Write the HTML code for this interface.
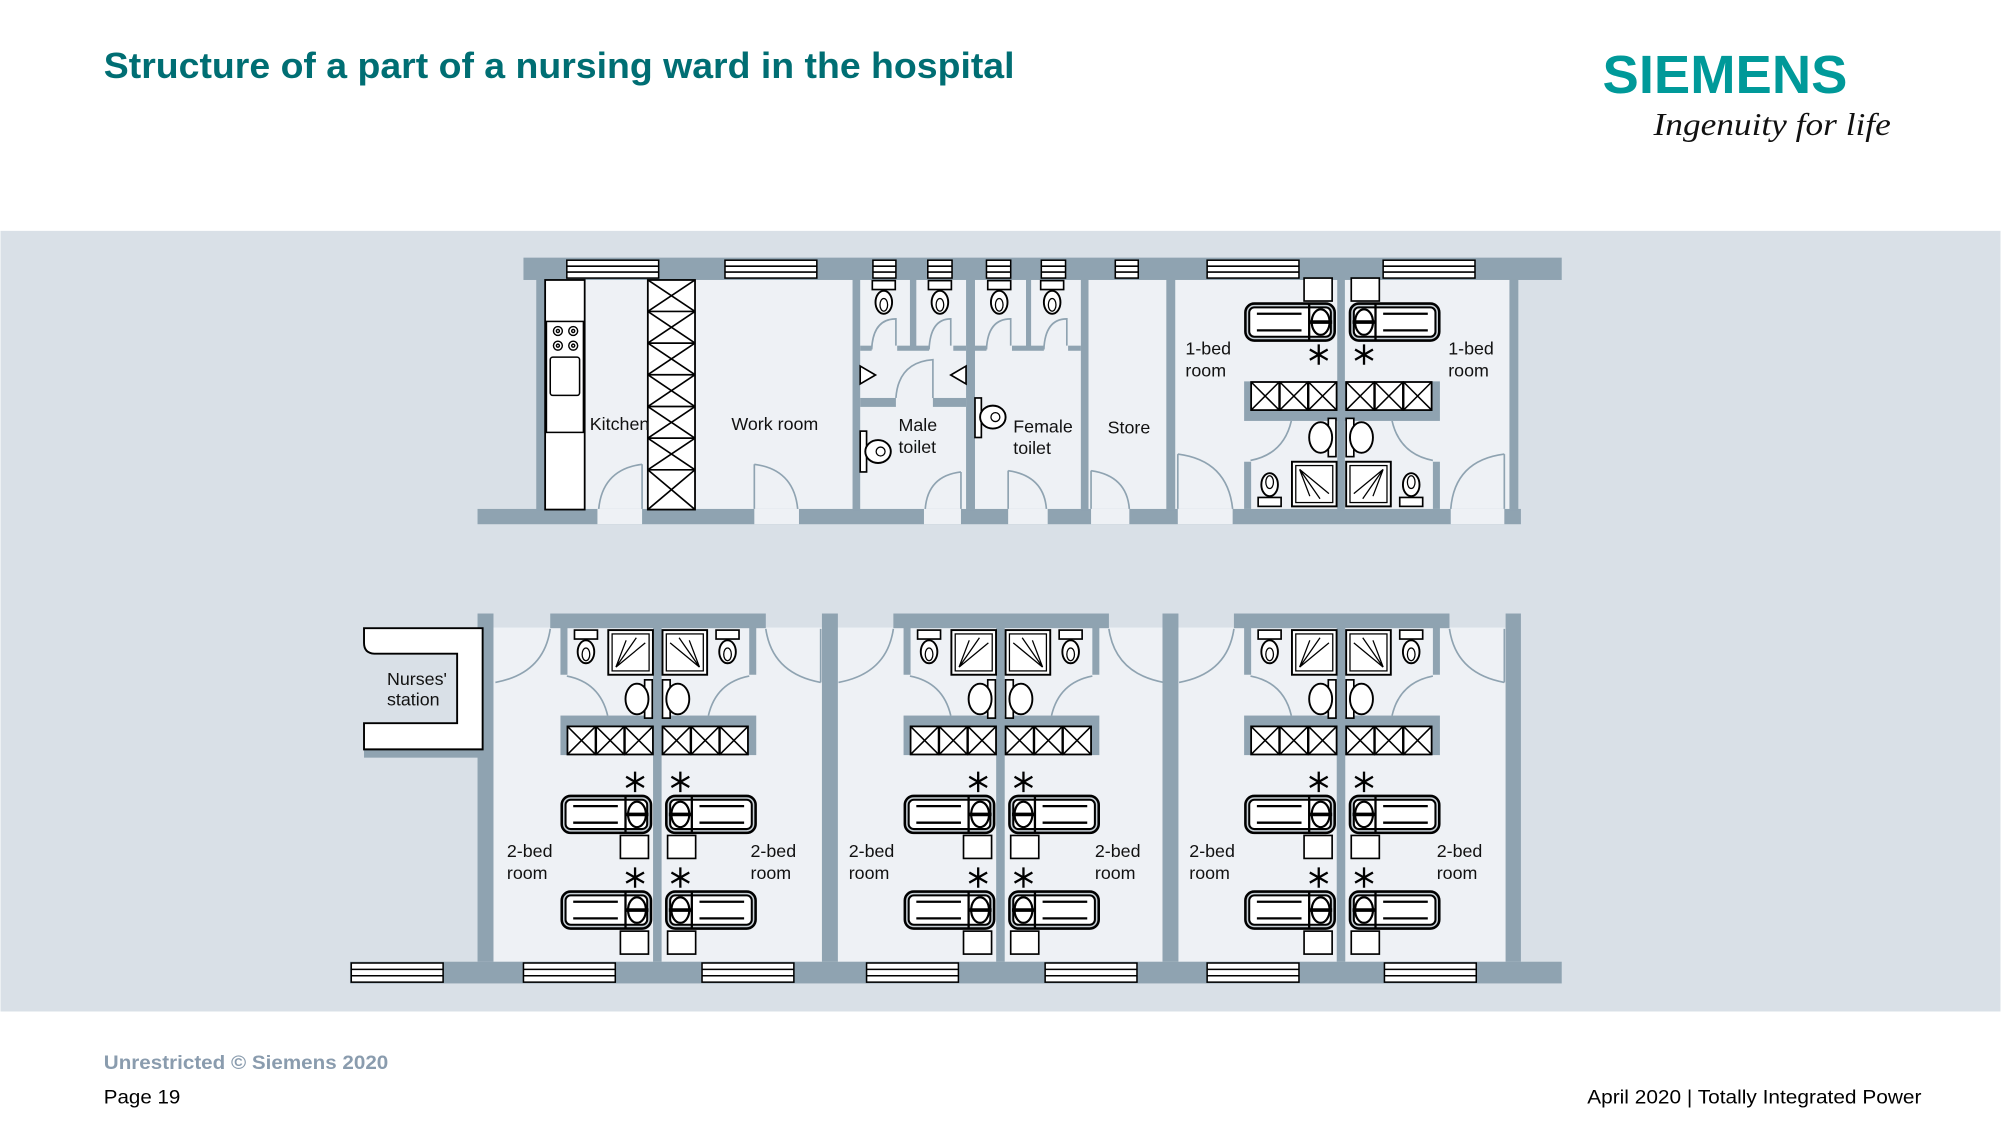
<!DOCTYPE html>
<html><head><meta charset="utf-8"><style>
html,body{margin:0;padding:0;background:#fff;}
svg{display:block;font-family:"Liberation Sans",Arial,sans-serif;}
</style></head><body>
<svg width="2001" height="1125" viewBox="0 0 1568 882" xmlns="http://www.w3.org/2000/svg">
<defs>
  <g id="xbox"><rect x="0" y="0" width="22" height="22" fill="#fff" stroke="#000" stroke-width="1.4"/><path d="M0,0L22,22M22,0L0,22" stroke="#000" stroke-width="1.2"/></g>
  <g id="bedR">
    <rect x="0" y="0" width="70" height="29" rx="7" fill="#c8d0d6" stroke="#000" stroke-width="2"/>
    <rect x="3" y="3" width="64" height="23" rx="4" fill="#fff" stroke="#000" stroke-width="1.6"/>
    <path d="M9,8H44M9,21H44" stroke="#000" stroke-width="1.8"/>
    <path d="M50,0V29" stroke="#000" stroke-width="1.8"/>
    <ellipse cx="59" cy="14.5" rx="7" ry="10" fill="#fff" stroke="#000" stroke-width="1.7"/>
    <path d="M50,14.5H68" stroke="#000" stroke-width="2.8"/>
  </g>
  <g id="ast"><path d="M0,-8V8M-7,-4L7,4M-7,4L7,-4" stroke="#000" stroke-width="1.8"/></g>
  <g id="toilet"><rect x="-9" y="0" width="18" height="7" fill="#fff" stroke="#000" stroke-width="1.3"/><ellipse cx="0" cy="17" rx="6.5" ry="9" fill="#fff" stroke="#000" stroke-width="1.5"/><ellipse cx="0" cy="19" rx="3" ry="5" fill="none" stroke="#000" stroke-width="1"/></g>
  <g id="shower"><rect x="0" y="0" width="35" height="35" fill="#fff" stroke="#000" stroke-width="1.5"/><rect x="3" y="3" width="29" height="29" fill="none" stroke="#000" stroke-width="1"/><path d="M6,29L22,6M6,29L29,10M6,29L14,8" stroke="#000" stroke-width="1"/></g>
  <g id="bedpair">
    <use href="#bedR" x="440" y="0"/>
    <use href="#bedR" transform="translate(592,0) scale(-1,1)"/>
    <rect x="486" y="31" width="22" height="18" fill="#fff" stroke="#000" stroke-width="1.3"/>
    <rect x="523" y="31" width="22" height="18" fill="#fff" stroke="#000" stroke-width="1.3"/>
    <use href="#ast" x="497.5" y="-11"/>
    <use href="#ast" x="533" y="-11"/>
  </g>
  <g id="bath">
    <rect x="439" y="492" width="5.5" height="37" fill="#8fa3b1"/>
    <rect x="587" y="492" width="5.5" height="37" fill="#8fa3b1"/>
    <rect x="439" y="561" width="153.5" height="31" fill="#8fa3b1"/>
    <use href="#toilet" x="459" y="494"/>
    <use href="#toilet" x="570" y="494"/>
    <use href="#shower" x="476.5" y="494"/>
    <use href="#shower" transform="translate(554,494) scale(-1,1)"/>
    <rect x="505" y="533" width="6" height="30" fill="#fff" stroke="#000" stroke-width="1.3"/>
    <ellipse cx="499" cy="548" rx="9" ry="12" fill="#fff" stroke="#000" stroke-width="1.5"/>
    <rect x="519" y="533" width="6" height="30" fill="#fff" stroke="#000" stroke-width="1.3"/>
    <ellipse cx="531" cy="548" rx="9" ry="12" fill="#fff" stroke="#000" stroke-width="1.5"/>
    <path d="M444,530 Q470,535 476,561" fill="none" stroke="#8fa3b1" stroke-width="1.3"/>
    <path d="M587,530 Q561,535 555,561" fill="none" stroke="#8fa3b1" stroke-width="1.3"/>
    <use href="#xbox" x="444.5" y="569.5"/><use href="#xbox" x="467" y="569.5"/><use href="#xbox" x="489.5" y="569.5"/>
    <use href="#xbox" x="519" y="569.5"/><use href="#xbox" x="541.5" y="569.5"/><use href="#xbox" x="564" y="569.5"/>
  </g>
  <g id="room">
    <rect x="511.6" y="492" width="6.7" height="262" fill="#8fa3b1"/>
    <use href="#bath"/>
    <use href="#bedpair" y="624"/>
    <use href="#bedpair" y="699"/>
    <path d="M388,535 Q426,528 431,493" fill="none" stroke="#8fa3b1" stroke-width="1.3"/>
    <path d="M600,493 Q605,528 643,535" fill="none" stroke="#8fa3b1" stroke-width="1.3"/>
    <path d="M643,493V535" stroke="#8fa3b1" stroke-width="1.3"/>
  </g>
  <g id="wwin">
    <rect x="0" y="0" width="72" height="15" fill="#fff" stroke="#000" stroke-width="1.2"/>
    <path d="M0,5H72M0,10H72" stroke="#000" stroke-width="1.2"/>
  </g>
</defs>

<rect width="1568" height="882" fill="#fff"/>
<text x="81" y="61" font-size="28" font-weight="bold" fill="#006e73" textLength="714" lengthAdjust="spacingAndGlyphs">Structure of a part of a nursing ward in the hospital</text>
<text x="1256" y="73" font-size="42" font-weight="bold" fill="#009999" textLength="192" lengthAdjust="spacingAndGlyphs">SIEMENS</text>
<text x="1296" y="106" font-size="25" font-style="italic" fill="#111" font-family="Liberation Serif, serif" textLength="186" lengthAdjust="spacingAndGlyphs">Ingenuity for life</text>

<rect x="0" y="181" width="1568" height="612" fill="#d9e0e7"/>

<!-- TOP BLOCK -->
<rect x="420" y="219" width="770" height="181" fill="#eef1f5"/>
<rect x="410" y="202" width="814" height="17.5" fill="#8fa3b1"/>
<rect x="374" y="399" width="818" height="12" fill="#8fa3b1"/>
<g fill="#fff" stroke="#000" stroke-width="1.2">
  <rect x="444" y="204" width="72" height="14"/><rect x="568" y="204" width="72" height="14"/>
  <rect x="684" y="204" width="18" height="14"/><rect x="727" y="204" width="19" height="14"/>
  <rect x="773" y="204" width="19" height="14"/><rect x="816" y="204" width="19" height="14"/>
  <rect x="874" y="204" width="18" height="14"/><rect x="946" y="204" width="72" height="14"/>
  <rect x="1084" y="204" width="72" height="14"/>
</g>
<g stroke="#000" stroke-width="1.2">
  <path d="M444,208.7H516M444,213.3H516M568,208.7H640M568,213.3H640M684,208.7H702M684,213.3H702M727,208.7H746M727,213.3H746M773,208.7H792M773,213.3H792M816,208.7H835M816,213.3H835M874,208.7H892M874,213.3H892M946,208.7H1018M946,213.3H1018M1084,208.7H1156M1084,213.3H1156"/>
</g>
<g fill="#eef1f5">
  <rect x="468" y="399" width="35" height="12"/><rect x="591" y="399" width="35" height="12"/>
  <rect x="724" y="399" width="29" height="12"/><rect x="790" y="399" width="31" height="12"/>
  <rect x="855" y="399" width="30" height="12"/><rect x="923" y="399" width="43" height="12"/>
  <rect x="1137" y="399" width="42" height="12"/>
</g>
<g fill="#8fa3b1">
  <rect x="420" y="219" width="7" height="181"/>
  <rect x="668" y="219" width="6" height="181"/>
  <rect x="713" y="219" width="5" height="55"/>
  <rect x="757" y="219" width="7" height="181"/>
  <rect x="804" y="219" width="4" height="55"/>
  <rect x="847" y="219" width="6" height="181"/>
  <rect x="914" y="219" width="7" height="181"/>
  <rect x="1048" y="219" width="6" height="181"/>
  <rect x="1183" y="219" width="7" height="181"/>
  <rect x="674" y="271" width="9" height="4"/><rect x="703" y="271" width="25" height="4"/><rect x="747" y="271" width="10" height="4"/>
  <rect x="764" y="271" width="9" height="4"/><rect x="793" y="271" width="25" height="4"/><rect x="837" y="271" width="10" height="4"/>
  <rect x="674" y="312" width="28" height="7"/><rect x="731" y="312" width="26" height="7"/>
</g>
<rect x="427" y="219.5" width="31" height="180" fill="#fff" stroke="#000" stroke-width="1.4"/>
<rect x="428" y="252" width="29" height="87" fill="#fff" stroke="#000" stroke-width="1.2"/>
<g fill="none" stroke="#000" stroke-width="1.1"><circle cx="437" cy="259.5" r="3.5"/><circle cx="449" cy="259.5" r="3.5"/><circle cx="437" cy="271" r="3.5"/><circle cx="449" cy="271" r="3.5"/><circle cx="437" cy="259.5" r="1.2"/><circle cx="449" cy="259.5" r="1.2"/><circle cx="437" cy="271" r="1.2"/><circle cx="449" cy="271" r="1.2"/></g>
<rect x="431" y="280" width="23" height="30" rx="2" fill="#fff" stroke="#000" stroke-width="1.2"/>
<rect x="507.5" y="219.5" width="37" height="180" fill="#fff" stroke="#000" stroke-width="1.4"/>
<g stroke="#000" stroke-width="1.3" fill="none">
  <path d="M507.5,244.2H544.5M507.5,269H544.5M507.5,293.8H544.5M507.5,318.7H544.5M507.5,343.5H544.5M507.5,368.3H544.5"/>
  <path d="M507.5,219.5L544.5,244.2M544.5,219.5L507.5,244.2M507.5,244.2L544.5,269M544.5,244.2L507.5,269M507.5,269L544.5,293.8M544.5,269L507.5,293.8M507.5,293.8L544.5,318.7M544.5,293.8L507.5,318.7M507.5,318.7L544.5,343.5M544.5,318.7L507.5,343.5M507.5,343.5L544.5,368.3M544.5,343.5L507.5,368.3M507.5,368.3L544.5,399.5M544.5,368.3L507.5,399.5"/>
</g>
<g fill="none" stroke="#8fa3b1" stroke-width="1.3">
  <path d="M503,364V399M503,364 Q472,368 469,399"/>
  <path d="M591,364V399M591,364 Q622,368 625,399"/>
  <path d="M753,370V399M753,370 Q727,373 725,399"/>
  <path d="M790,369V399M790,369 Q818,373 820,399"/>
  <path d="M855,369V399M855,369 Q883,373 885,399"/>
  <path d="M923,356V399M923,356 Q962,361 966,399"/>
  <path d="M1179,356V399M1179,356 Q1140,361 1137,399"/>
  <path d="M683,274 Q684,250 702,250V271"/><path d="M728,274 Q729,250 745,250V271"/>
  <path d="M773,274 Q774,250 792,250V271"/><path d="M818,274 Q819,250 836,250V271"/>
  <path d="M702,312 Q704,284 731,282V312"/>
</g>
<use href="#toilet" x="692.5" y="220"/><use href="#toilet" x="736.5" y="220"/>
<use href="#toilet" x="783" y="220"/><use href="#toilet" x="824.5" y="220"/>
<path d="M674,287V301L686,294Z" fill="#fff" stroke="#000" stroke-width="1.3"/>
<path d="M757,287V301L745,294Z" fill="#fff" stroke="#000" stroke-width="1.3"/>
<rect x="674" y="338" width="5" height="32" fill="#fff" stroke="#000" stroke-width="1.3"/>
<ellipse cx="688" cy="354" rx="10" ry="9" fill="#fff" stroke="#000" stroke-width="1.5"/>
<circle cx="690" cy="354" r="3.5" fill="none" stroke="#000" stroke-width="1"/>
<rect x="764" y="312" width="5" height="31" fill="#fff" stroke="#000" stroke-width="1.3"/>
<ellipse cx="778" cy="327" rx="10" ry="9" fill="#fff" stroke="#000" stroke-width="1.5"/>
<circle cx="780" cy="327" r="3.5" fill="none" stroke="#000" stroke-width="1"/>
<g transform="translate(536,891) scale(1,-1)">
  <use href="#bath"/>
  <use href="#bedpair" transform="translate(0,624)"/>
</g>
<g font-size="14" fill="#111">
  <text x="462" y="337">Kitchen</text>
  <text x="573" y="337">Work room</text>
  <text x="704" y="338">Male</text><text x="704" y="355">toilet</text>
  <text x="794" y="339">Female</text><text x="794" y="356">toilet</text>
  <text x="868" y="340">Store</text>
  <text x="929" y="278">1-bed</text><text x="929" y="295">room</text>
  <text x="1135" y="278">1-bed</text><text x="1135" y="295">room</text>
</g>

<!-- BOTTOM BLOCK -->
<rect x="386" y="492" width="794" height="262" fill="#eef1f5"/>
<rect x="374" y="481" width="12.5" height="273" fill="#8fa3b1"/>
<rect x="274" y="754" width="950" height="17" fill="#8fa3b1"/>
<g fill="#8fa3b1">
  <rect x="431" y="481" width="169" height="11.5"/>
  <rect x="644" y="481" width="12.5" height="273"/>
  <rect x="700" y="481" width="169" height="11.5"/>
  <rect x="911" y="481" width="12.5" height="273"/>
  <rect x="967" y="481" width="169" height="11.5"/>
  <rect x="1180" y="481" width="12" height="273"/>
</g>
<use href="#room"/>
<use href="#room" x="269"/>
<use href="#room" x="536"/>
<g>
  <use href="#wwin" x="275" y="755"/><use href="#wwin" x="410" y="755"/><use href="#wwin" x="550" y="755"/>
  <use href="#wwin" x="679" y="755"/><use href="#wwin" x="819" y="755"/>
  <use href="#wwin" x="946" y="755"/><use href="#wwin" x="1085" y="755"/>
</g>
<rect x="285" y="587" width="93" height="7" fill="#8fa3b1"/>
<path d="M285,492.5H378V587.5H285V567H358V512.5H293Q285,512 285,504Z" fill="#fff" stroke="#000" stroke-width="1.5"/>
<g font-size="14" fill="#111">
  <text x="303" y="537">Nurses'</text><text x="303" y="553">station</text>
  <text x="397" y="672">2-bed</text><text x="397" y="689">room</text>
  <text x="588" y="672">2-bed</text><text x="588" y="689">room</text>
  <text x="665" y="672">2-bed</text><text x="665" y="689">room</text>
  <text x="858" y="672">2-bed</text><text x="858" y="689">room</text>
  <text x="932" y="672">2-bed</text><text x="932" y="689">room</text>
  <text x="1126" y="672">2-bed</text><text x="1126" y="689">room</text>
</g>

<text x="81" y="838" font-size="15" font-weight="bold" fill="#8a9cae" textLength="223" lengthAdjust="spacingAndGlyphs">Unrestricted © Siemens 2020</text>
<text x="81" y="865" font-size="15" fill="#000" textLength="60" lengthAdjust="spacingAndGlyphs">Page 19</text>
<text x="1244" y="865" font-size="15" fill="#000" textLength="262" lengthAdjust="spacingAndGlyphs">April 2020 | Totally Integrated Power</text>
</svg>
</body></html>
